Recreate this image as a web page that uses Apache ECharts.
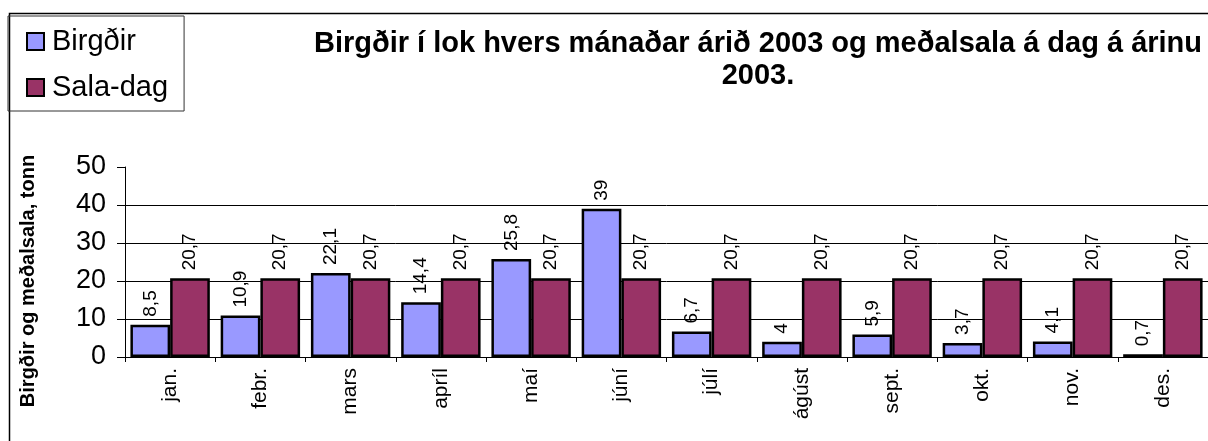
<!DOCTYPE html>
<html>
<head>
<meta charset="utf-8">
<script src="https://cdn.jsdelivr.net/npm/echarts@6/dist/echarts.min.js"></script>
<style>
  html, body { margin: 0; padding: 0; background: #fff; }
  #chart { width: 1208px; height: 441px; }
</style>
</head>
<body>
<div id="chart"></div>
<script>
var months = ['jan.', 'febr.', 'mars', 'apríl', 'maí', 'júní', 'júlí', 'ágúst', 'sept.', 'okt.', 'nov.', 'des.'];
var birgdir = [8.5, 10.9, 22.1, 14.4, 25.8, 39, 6.7, 4, 5.9, 3.7, 4.1, 0.7];
var salaDag = [20.7, 20.7, 20.7, 20.7, 20.7, 20.7, 20.7, 20.7, 20.7, 20.7, 20.7, 20.7];
var yTicks = [0, 10, 20, 30, 40, 50];

var font = "'Liberation Sans', Arial, sans-serif";

function commaLabel(p) {
    return String(p.value).replace('.', ',');
}

var barLabel = {
    show: true,
    position: 'top',
    rotate: 90,
    align: 'left',
    verticalAlign: 'middle',
    distance: 8,
    fontFamily: font,
    fontSize: 19,
    color: '#000',
    formatter: commaLabel
};

var chart = echarts.init(document.getElementById('chart'));
chart.setOption({
    animation: false,
    backgroundColor: '#fff',
    title: {
        text: 'Birgðir í lok hvers mánaðar árið 2003 og meðalsala á dag á árinu\n2003.',
        left: 753,
        top: 23,
        textAlign: 'center',
        textStyle: {
            fontFamily: font,
            fontSize: 29,
            fontWeight: 'bold',
            color: '#000',
            lineHeight: 32
        }
    },
    legend: {
        orient: 'vertical',
        left: 8,
        top: 16,
        padding: [11, 16, 9, 18],
        itemGap: 17,
        itemWidth: 17,
        itemHeight: 17,
        borderColor: '#333',
        borderWidth: 1,
        icon: 'rect',
        itemStyle: { borderColor: '#000', borderWidth: 2 },
        textStyle: { fontFamily: font, fontSize: 29, color: '#000', padding: [0, 0, 0, 3] },
        data: ['Birgðir', 'Sala-dag']
    },
    grid: {
        left: 125,
        top: 167,
        width: 1090,
        height: 190,
        containLabel: false
    },
    xAxis: {
        type: 'category',
        data: months,
        axisLine: { lineStyle: { color: '#000', width: 1 } },
        axisTick: { show: true, length: 5, lineStyle: { color: '#000' } },
        axisLabel: {
            rotate: 90,
            margin: 11,
            fontFamily: font,
            fontSize: 21,
            color: '#000'
        }
    },
    yAxis: {
        type: 'value',
        min: yTicks[0],
        max: yTicks[yTicks.length - 1],
        interval: 10,
        axisLine: { show: true, lineStyle: { color: '#000', width: 1 } },
        axisTick: { show: true, length: 8, lineStyle: { color: '#000' } },
        axisLabel: {
            margin: 19,
            fontFamily: font,
            fontSize: 27,
            color: '#000'
        },
        splitLine: {
            show: true,
            lineStyle: { color: ['#000', '#000', '#000', '#000', '#000', 'rgba(0,0,0,0)'], width: 1 }
        }
    },
    series: [
        {
            name: 'Birgðir',
            type: 'bar',
            data: birgdir,
            barGap: '0%',
            barCategoryGap: '12%',
            itemStyle: { color: '#9999FF', borderColor: '#000', borderWidth: 2.5 },
            label: barLabel
        },
        {
            name: 'Sala-dag',
            type: 'bar',
            data: salaDag,
            itemStyle: { color: '#993366', borderColor: '#000', borderWidth: 2.5 },
            label: barLabel
        }
    ],
    graphic: [
        {
            type: 'rect',
            left: 7,
            top: 11,
            shape: { width: 1300, height: 500 },
            style: { fill: 'none', stroke: '#000', lineWidth: 1.5 },
            silent: true,
            z: -1
        },
        {
            type: 'text',
            x: 28,
            y: 281,
            rotation: Math.PI / 2,
            style: {
                text: 'Birgðir og meðalsala, tonn',
                font: "bold 20px 'Liberation Sans', Arial, sans-serif",
                fill: '#000',
                textAlign: 'center',
                textVerticalAlign: 'middle'
            }
        }
    ]
});
</script>
</body>
</html>
